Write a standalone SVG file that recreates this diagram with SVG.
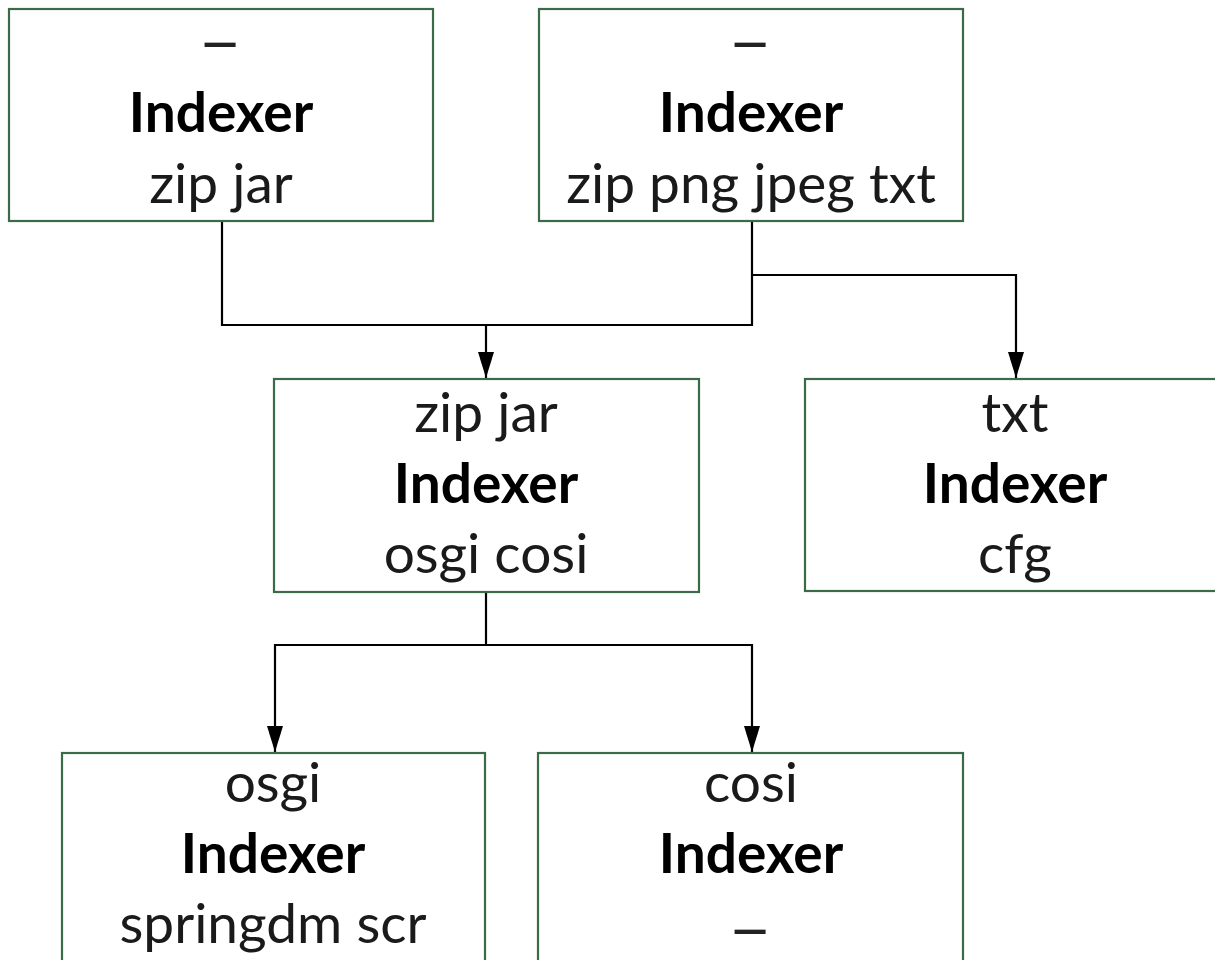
<svg xmlns="http://www.w3.org/2000/svg" width="1215" height="960" viewBox="0 0 1215 960">
  <style>
    .box { fill: #ffffff; stroke: #3b6a48; stroke-width: 2.2; }
    .wire { fill: none; stroke: #000000; stroke-width: 2.2; }
    text { font-family: Lato, "Open Sans", "Liberation Sans", sans-serif; font-size: 55px; fill: #1a1a1a; text-anchor: middle; }
    .title { font-weight: bold; fill: #000000; }
    .dash { fill: #222222; font-weight: 600; }
  </style>
  <defs>
    <marker id="head" markerUnits="userSpaceOnUse" markerWidth="26" markerHeight="16" refX="26" refY="8" orient="auto" viewBox="0 0 26 16">
      <path d="M0,0 L26,8 L0,16 Z" fill="#000000"/>
    </marker>
  </defs>

  <rect width="1215" height="960" fill="#ffffff"/>

  <g id="connectors">
    <path class="wire" d="M222,221 V325 H752 V221"/>
    <path class="wire" d="M486,325 V378" marker-end="url(#head)"/>
    <path class="wire" d="M752,275 H1016 V378" marker-end="url(#head)"/>
    <path class="wire" d="M486,592 V645 H275 V752" marker-end="url(#head)"/>
    <path class="wire" d="M486,645 H752 V752" marker-end="url(#head)"/>
  </g>

  <g id="node-top-left">
    <rect class="box" x="9" y="9" width="424" height="212"/>
    <text class="dash" transform="matrix(1.4 0 0 1 220 62)" x="0" y="0">–</text>
    <text class="title" x="221" y="132">Indexer</text>
    <text x="221" y="203">zip jar</text>
  </g>

  <g id="node-top-right">
    <rect class="box" x="539" y="9" width="424" height="212"/>
    <text class="dash" transform="matrix(1.4 0 0 1 750 62)" x="0" y="0">–</text>
    <text class="title" x="751" y="132">Indexer</text>
    <text x="751" y="203">zip png jpeg txt</text>
  </g>

  <g id="node-zip-jar">
    <rect class="box" x="274" y="379" width="425" height="213"/>
    <text x="486" y="432">zip jar</text>
    <text class="title" x="486" y="503">Indexer</text>
    <text x="486" y="573">osgi cosi</text>
  </g>

  <g id="node-txt">
    <rect class="box" x="805" y="379" width="424" height="212"/>
    <text x="1015" y="432">txt</text>
    <text class="title" x="1015" y="503">Indexer</text>
    <text x="1015" y="573">cfg</text>
  </g>

  <g id="node-osgi">
    <rect class="box" x="62" y="753" width="423" height="230"/>
    <text x="273" y="802">osgi</text>
    <text class="title" x="273" y="873">Indexer</text>
    <text x="273" y="943">springdm scr</text>
  </g>

  <g id="node-cosi">
    <rect class="box" x="538" y="753" width="425" height="230"/>
    <text x="751" y="802">cosi</text>
    <text class="title" x="751" y="873">Indexer</text>
    <text class="dash" transform="matrix(1.4 0 0 1 750 949)" x="0" y="0">–</text>
  </g>
</svg>
